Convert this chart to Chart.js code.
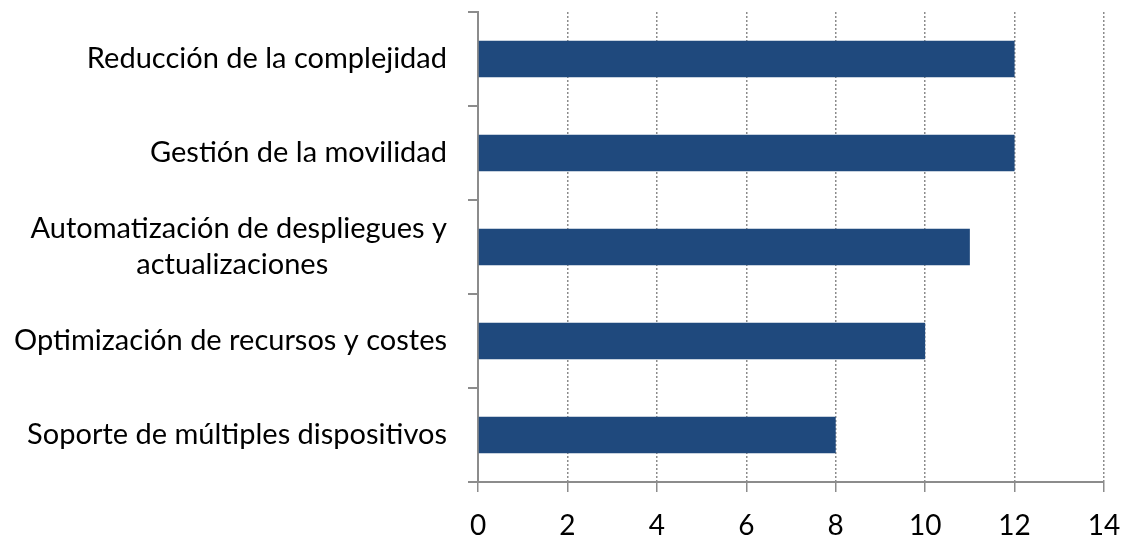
<!DOCTYPE html>
<html>
<head>
<meta charset="utf-8">
<script src="https://cdn.jsdelivr.net/npm/chart.js@4"></script>
<style>
  body { margin: 0; background: #fff; }
  #wrap { width: 1124px; height: 538px; }
</style>
</head>
<body>
<div id="wrap"><canvas id="chart" width="1124" height="538"></canvas></div>
<script>
const categories = [
  'Reducción de la complejidad',
  'Gestión de la movilidad',
  ['Automatización de despliegues y', 'actualizaciones'],
  'Optimización de recursos y costes',
  'Soporte de múltiples dispositivos'
];
const values = [12, 12, 11, 10, 8];
const xTicks = [0, 2, 4, 6, 8, 10, 12, 14];

const labelFont = '29px Lato';
const measureCtx = document.createElement('canvas').getContext('2d');

// Excel centres the lines of a wrapped label; pad shorter lines with spaces
function centreLines(lines) {
  if (!Array.isArray(lines)) return lines;
  measureCtx.font = labelFont;
  const widest = Math.max(...lines.map(l => measureCtx.measureText(l).width));
  return lines.map(l => {
    let s = l;
    const target = (widest - measureCtx.measureText(l).width) / 2;
    while (measureCtx.measureText(s).width - measureCtx.measureText(l).width < target) s += ' ';
    return s;
  });
}

const ctx = document.getElementById('chart').getContext('2d');
new Chart(ctx, {
  type: 'bar',
  data: {
    labels: categories,
    datasets: [{
      data: values,
      backgroundColor: '#1F497D',
      barPercentage: 0.39,
      categoryPercentage: 1
    }]
  },
  options: {
    indexAxis: 'y',
    responsive: false,
    animation: false,
    layout: { padding: { top: 12, right: 20, left: 0, bottom: 0 } },
    plugins: { legend: { display: false }, tooltip: { enabled: false } },
    scales: {
      x: {
        min: 0,
        max: 14,
        afterBuildTicks: scale => { scale.ticks = xTicks.map(v => ({ value: v })); },
        afterFit: scale => {
          scale.height = 56;
          scale.paddingLeft = 0;
          scale.paddingRight = 0;
        },
        grid: {
          color: '#8c8c8c',
          lineWidth: 1.5,
          tickColor: '#8c8c8c',
          tickLength: 10,
          tickBorderDash: []
        },
        border: { display: true, color: '#8c8c8c', width: 2, dash: [2, 2] },
        ticks: {
          color: '#000',
          padding: 17,
          font: { family: 'Lato', size: 28 }
        }
      },
      y: {
        afterFit: scale => {
          scale.width = 478;
          scale.paddingTop = 0;
          scale.paddingBottom = 0;
        },
        grid: {
          offset: true,
          drawOnChartArea: false,
          tickColor: '#8c8c8c',
          tickLength: 10,
          lineWidth: 2
        },
        border: { display: true, color: '#8c8c8c', width: 2 },
        ticks: {
          color: '#000',
          padding: 21,
          font: { family: 'Lato', size: 29, lineHeight: 1.25 },
          callback: function (val) {
            return centreLines(this.getLabelForValue(val));
          }
        }
      }
    }
  }
});
</script>
</body>
</html>
